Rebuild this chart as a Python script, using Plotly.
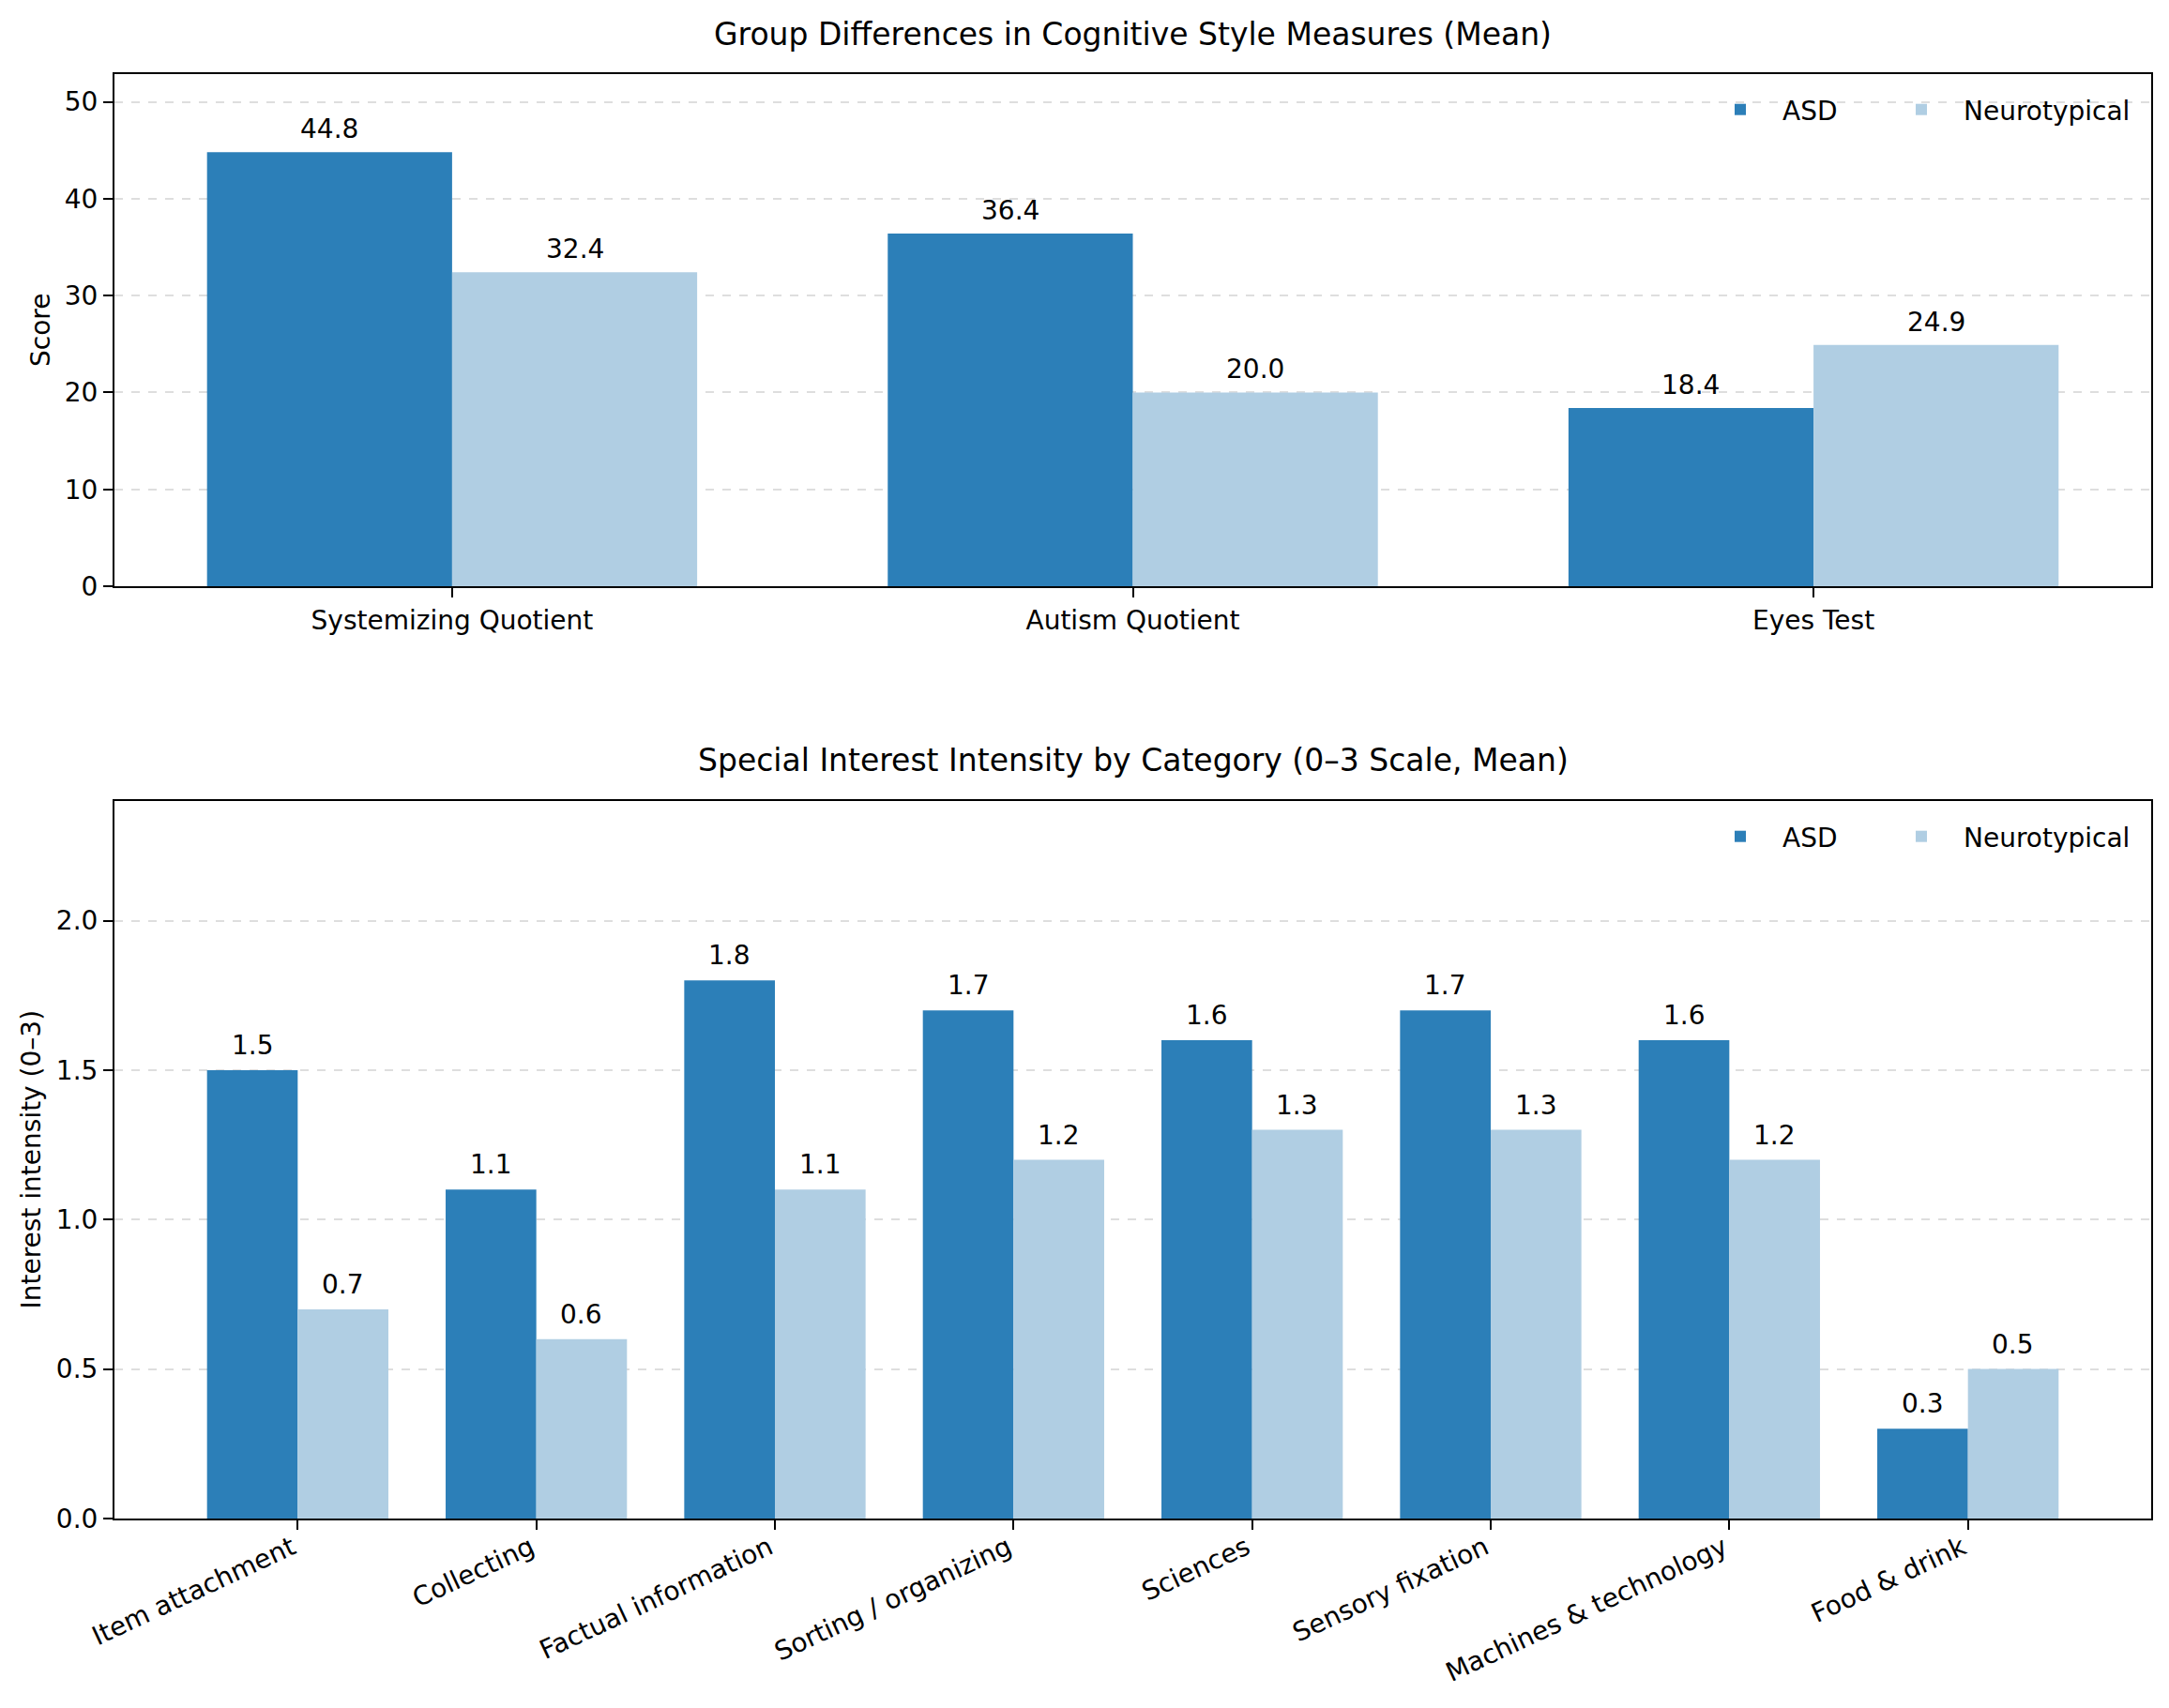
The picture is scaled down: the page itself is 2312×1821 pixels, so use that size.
import plotly.graph_objects as go

# ---- data ----
measures = ["Systemizing Quotient", "Autism Quotient", "Eyes Test"]
asd_measures = [44.8, 36.4, 18.4]
nt_measures = [32.4, 20.0, 24.9]

interests = ["Item attachment", "Collecting", "Factual information",
             "Sorting / organizing", "Sciences", "Sensory fixation",
             "Machines & technology", "Food & drink"]
asd_interest = [1.5, 1.1, 1.8, 1.7, 1.6, 1.7, 1.6, 0.3]
nt_interest = [0.7, 0.6, 1.1, 1.2, 1.3, 1.3, 1.2, 0.5]

groups = ["ASD", "Neurotypical"]

# ---- style ----
W, H = 2312, 1821
OFF = 8  # page body margin
ASD_C = "#2c7fb8"
NT_C = "#b0cee3"
FONT = "DejaVu Sans"
FS = 28
GRID = "rgba(128,128,128,0.26)"

def px_y(p):
    return (H - (p - OFF)) / H

def px_x(p):
    return (p - OFF) / W

top_dom = [px_y(625), px_y(79)]
bot_dom = [px_y(1619), px_y(854)]
x_dom = [px_x(122), px_x(2293)]

fig = go.Figure()

w1 = 0.36
fig.add_trace(go.Bar(x=measures, y=asd_measures, name=groups[0], width=w1, offset=-w1,
                     marker=dict(color=ASD_C, line=dict(width=0)),
                     xaxis="x", yaxis="y", legend="legend"))
fig.add_trace(go.Bar(x=measures, y=nt_measures, name=groups[1], width=w1, offset=0,
                     marker=dict(color=NT_C, line=dict(width=0)),
                     xaxis="x", yaxis="y", legend="legend3"))

w2 = 0.38
fig.add_trace(go.Bar(x=interests, y=asd_interest, name=groups[0], width=w2, offset=-w2,
                     marker=dict(color=ASD_C, line=dict(width=0)),
                     xaxis="x2", yaxis="y2", legend="legend2"))
fig.add_trace(go.Bar(x=interests, y=nt_interest, name=groups[1], width=w2, offset=0,
                     marker=dict(color=NT_C, line=dict(width=0)),
                     xaxis="x2", yaxis="y2", legend="legend4"))

annotations = []
for i, (a, n) in enumerate(zip(asd_measures, nt_measures)):
    for xv, v in ((i - w1 / 2, a), (i + w1 / 2, n)):
        annotations.append(dict(x=xv, y=v, xref="x", yref="y", text=f"{v:.1f}",
                                showarrow=False, yanchor="bottom", yshift=6,
                                font=dict(family=FONT, size=FS, color="black")))
for i, (a, n) in enumerate(zip(asd_interest, nt_interest)):
    for xv, v in ((i - w2 / 2, a), (i + w2 / 2, n)):
        annotations.append(dict(x=xv, y=v, xref="x2", yref="y2", text=f"{v:.1f}",
                                showarrow=False, yanchor="bottom", yshift=8,
                                font=dict(family=FONT, size=FS, color="black")))

xc = (x_dom[0] + x_dom[1]) / 2
# titles
annotations.append(dict(text="Group Differences in Cognitive Style Measures (Mean)",
                        x=xc, y=px_y(36), xref="paper", yref="paper",
                        showarrow=False, xanchor="center", yanchor="middle",
                        font=dict(family=FONT, size=33, color="black")))
annotations.append(dict(text="Special Interest Intensity by Category (0–3 Scale, Mean)",
                        x=xc, y=px_y(810), xref="paper", yref="paper",
                        showarrow=False, xanchor="center", yanchor="middle",
                        font=dict(family=FONT, size=33, color="black")))
# axis titles
annotations.append(dict(text="Score", x=px_x(43), y=(top_dom[0] + top_dom[1]) / 2,
                        xref="paper", yref="paper", showarrow=False, textangle=-90,
                        xanchor="center", yanchor="middle",
                        font=dict(family=FONT, size=FS, color="black")))
annotations.append(dict(text="Interest intensity (0–3)", x=px_x(33), y=(bot_dom[0] + bot_dom[1]) / 2,
                        xref="paper", yref="paper", showarrow=False, textangle=-90,
                        xanchor="center", yanchor="middle",
                        font=dict(family=FONT, size=FS, color="black")))

axis_common = dict(showline=True, linecolor="black", linewidth=2, mirror=True,
                   ticks="outside", ticklen=10, tickwidth=2, tickcolor="black",
                   tickfont=dict(family=FONT, size=FS, color="black"),
                   zeroline=False, automargin=False)

legend_common = dict(orientation="h", xanchor="right", yanchor="top",
                     bgcolor="rgba(0,0,0,0)", font=dict(family=FONT, size=FS),
                     itemwidth=80, tracegroupgap=0)

ASD_LEG_X = 1964
NT_LEG_X = 2276
TOP_LEG_Y = 92
BOT_LEG_Y = 867

fig.update_layout(
    width=W, height=H,
    margin=dict(l=0, r=0, t=0, b=0, pad=0),
    paper_bgcolor="white", plot_bgcolor="white",
    font=dict(family=FONT, size=FS, color="black"),
    barmode="overlay",
    xaxis=dict(domain=x_dom, anchor="y", range=[-0.496, 2.496], showgrid=False,
               type="category", **axis_common),
    yaxis=dict(domain=top_dom, anchor="x", range=[0, 52.86], dtick=10,
               showgrid=True, gridcolor=GRID, gridwidth=2, griddash="dash",
               layer="above traces", **axis_common),
    xaxis2=dict(domain=x_dom, anchor="y2", range=[-0.768, 7.768], showgrid=False,
                type="category", tickangle=-25, ticklabelstandoff=-8, ticklabelshift=-6,
                **axis_common),
    yaxis2=dict(domain=bot_dom, anchor="x2", range=[0, 2.4], dtick=0.5, tickformat=".1f",
                showgrid=True, gridcolor=GRID, gridwidth=2, griddash="dash",
                layer="above traces", **axis_common),
    legend=dict(x=px_x(ASD_LEG_X), y=px_y(TOP_LEG_Y), **legend_common),
    legend3=dict(x=px_x(NT_LEG_X), y=px_y(TOP_LEG_Y), **legend_common),
    legend2=dict(x=px_x(ASD_LEG_X), y=px_y(BOT_LEG_Y), **legend_common),
    legend4=dict(x=px_x(NT_LEG_X), y=px_y(BOT_LEG_Y), **legend_common),
    annotations=annotations,
    showlegend=True,
)

fig.write_html("out.html")
